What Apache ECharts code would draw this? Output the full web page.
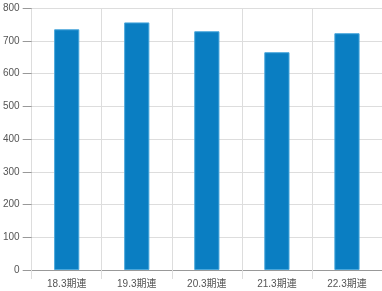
<!DOCTYPE html>
<html><head><meta charset="utf-8">
<script src="https://cdn.jsdelivr.net/npm/echarts@6/dist/echarts.min.js"></script>
<style>html,body{margin:0;padding:0;background:#fff}#c{width:382px;height:291px}</style>
</head><body><div id="c"></div>
<script>
const categories = ['18.3期連','19.3期連','20.3期連','21.3期連','22.3期連'];
const values = [735, 756, 729, 665, 723];
const yTicks = [0,100,200,300,400,500,600,700,800];

const chart = echarts.init(document.getElementById('c'), null, {renderer:'canvas'});
chart.setOption({
  animation:false,
  grid:{left:29, width:358, top:8, height:262, containLabel:false},
  xAxis:{
    type:'category', data:categories,
    axisLine:{lineStyle:{color:'#999'}},
    axisTick:{show:true, length:9, lineStyle:{color:'#ddd'}},
    splitLine:{show:true, lineStyle:{color:'#ddd'}},
    axisLabel:{color:'#555', fontSize:10, margin:9, fontFamily:'Liberation Sans, Noto Sans CJK JP'}
  },
  yAxis:{
    type:'value', min:yTicks[0], max:yTicks[yTicks.length-1], interval:100,
    axisLine:{show:false},
    axisTick:{show:true, length:9, lineStyle:{color:'#999'}},
    splitLine:{lineStyle:{color:'#ddd'}},
    axisLabel:{color:'#555', fontSize:10, margin:12, fontFamily:'Liberation Sans'}
  },
  series:[{
    type:'bar', data:values, barWidth:'36%',
    itemStyle:{color:'#0a7ec2', borderColor:'#4aa8dc', borderWidth:1}
  }]
});
</script></body></html>
